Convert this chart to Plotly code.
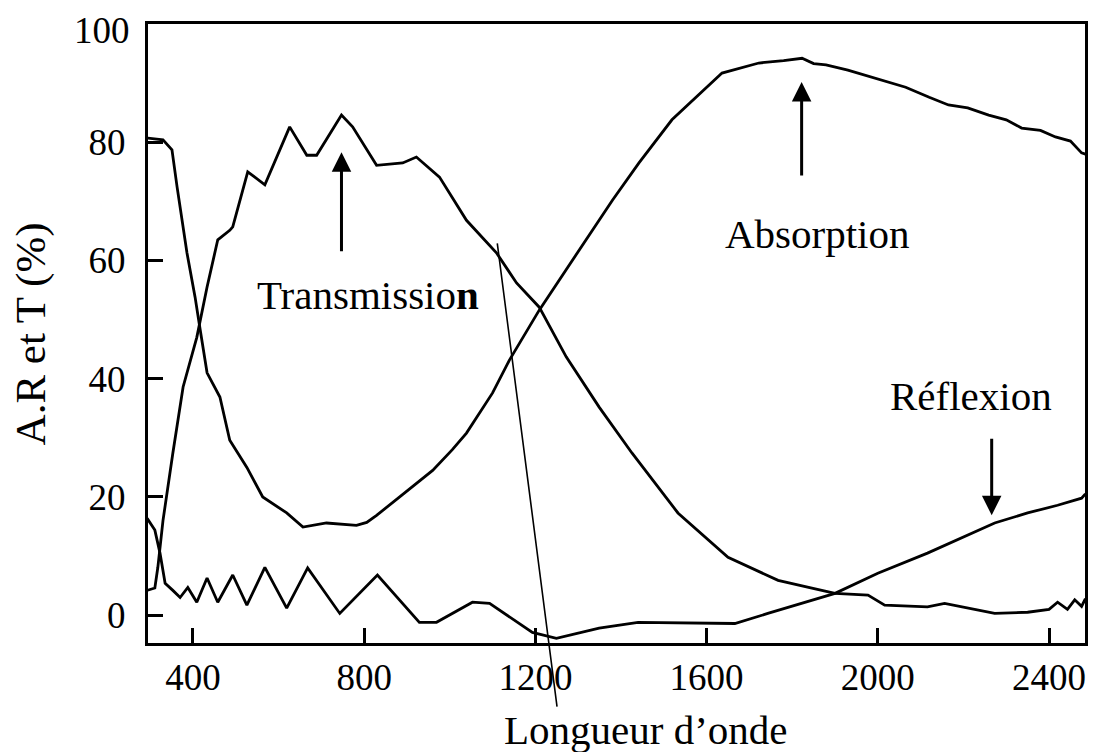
import plotly.graph_objects as go

# ---- data ----
wl_abs = [293, 330, 351, 363, 386, 405, 416, 433, 463, 486, 526, 563, 619, 657, 712, 782,
          806, 829, 883, 960, 1006, 1039, 1100, 1139, 1209, 1272, 1349, 1380, 1442, 1519,
          1636, 1722, 1780, 1823, 1850, 1879, 1930, 1986, 2065, 2120, 2165, 2210, 2259,
          2300, 2336, 2380, 2415, 2450, 2476, 2485]
absorption = [80.7, 80.4, 78.7, 72.4, 61.3, 53.8, 48.7, 41.0, 36.9, 29.6, 25.0, 20.0, 17.3,
              14.9, 15.6, 15.2, 15.7, 16.9, 20.0, 24.5, 28.0, 30.8, 37.6, 43.1, 51.6, 58.4,
              66.8, 70.2, 76.5, 83.8, 91.7, 93.4, 93.8, 94.2, 93.3, 93.1, 92.2, 91.0, 89.3,
              87.6, 86.3, 85.8, 84.6, 83.8, 82.4, 82.0, 80.9, 80.2, 78.2, 78.0]

wl_tr = [293, 311, 318, 330, 353, 377, 409, 433, 458, 486, 493, 528, 568, 626, 666, 689,
         747, 773, 829, 890, 922, 976, 1039, 1109, 1156, 1209, 1272, 1349, 1426, 1505,
         1533, 1650, 1767, 1846, 1900, 1977, 2016, 2116, 2156, 2273, 2350, 2400, 2420,
         2443, 2460, 2476, 2485]
transmission = [4.2, 4.6, 8.1, 16.0, 27.4, 38.6, 47.0, 55.5, 63.5, 65.1, 65.7, 75.0, 72.8,
                82.6, 77.8, 77.8, 84.6, 82.6, 76.1, 76.5, 77.5, 74.1, 66.8, 61.3, 56.2,
                52.1, 43.7, 35.2, 27.4, 20.0, 17.3, 9.8, 5.9, 4.6, 3.7, 3.4, 1.7, 1.4,
                2.0, 0.3, 0.5, 1.0, 2.2, 1.0, 2.6, 1.5, 2.8]

wl_ref = [293, 311, 323, 335, 353, 370, 388, 409, 433, 458, 493, 526, 568, 619, 668, 743,
          831, 929, 969, 1053, 1093, 1193, 1249, 1349, 1440, 1596, 1666, 1743, 1846, 1900,
          2000, 2116, 2273, 2350, 2420, 2476, 2485]
reflexion = [16.4, 14.4, 10.5, 5.4, 4.2, 3.0, 4.7, 2.2, 6.3, 2.2, 6.8, 1.7, 8.1, 1.2, 8.0,
             0.3, 6.8, -1.2, -1.2, 2.2, 2.0, -2.9, -3.9, -2.2, -1.2, -1.4, -1.4, 0.3, 2.5,
             3.7, 7.1, 10.5, 15.6, 17.3, 18.6, 19.8, 20.5]

x_ticks = [400, 800, 1200, 1600, 2000, 2400]
y_ticks = [0, 20, 40, 60, 80, 100]

FONT = "Liberation Serif, Times New Roman, serif"
line_style = dict(color="black", width=2.8)
tick_font = dict(family=FONT, size=37, color="black")

fig = go.Figure()
for xs, ys, name in [(wl_abs, absorption, "Absorption"),
                     (wl_tr, transmission, "Transmission"),
                     (wl_ref, reflexion, "Réflexion")]:
    fig.add_trace(go.Scatter(x=xs, y=ys, mode="lines", name=name,
                             line=line_style, showlegend=False, hoverinfo="skip"))

ann_font = dict(family=FONT, size=41, color="black")

# arrows
for (ax_x, tail_y, head_y) in [(747, 61.3, 78.3), (1822, 74.1, 90.2), (2266, 30.1, 16.9)]:
    fig.add_annotation(x=ax_x, y=head_y, ax=ax_x, ay=tail_y, xref="x", yref="y",
                       axref="x", ayref="y", text="", showarrow=True,
                       arrowhead=2, arrowwidth=3, arrowsize=1.3, arrowcolor="black")

# pointer line to "Longueur d'onde"
fig.add_annotation(x=1111, y=62.9, ax=1251, ay=-15.7, xref="x", yref="y",
                   axref="x", ayref="y", text="", showarrow=True,
                   arrowhead=0, arrowwidth=1.6, arrowcolor="black")

# labels
fig.add_annotation(x=810, y=54.1, xref="x", yref="y", text="Transmissio<b>n</b>",
                   showarrow=False, font=ann_font)
fig.add_annotation(x=1858, y=64.5, xref="x", yref="y", text="Absorption",
                   showarrow=False, font=ann_font)
fig.add_annotation(x=2217, y=37.1, xref="x", yref="y", text="Réflexion",
                   showarrow=False, font=ann_font)
fig.add_annotation(x=1459, y=-0.14, xref="x", yref="paper", text="Longueur d’onde",
                   showarrow=False, font=ann_font, xanchor="center", yanchor="middle")
fig.add_annotation(x=-0.125, y=0.50, xref="paper", yref="paper", text="A.R et T (%)",
                   textangle=-90, showarrow=False, xanchor="center", yanchor="middle",
                   font=dict(family=FONT, size=43, color="black"))

# top y tick label, kept inside the figure area
fig.add_annotation(x=0, y=1, xref="paper", yref="paper", text=str(y_ticks[-1]),
                   showarrow=False, xanchor="right", yanchor="top", xshift=-16, yshift=16,
                   font=tick_font)

axis_common = dict(showgrid=False, zeroline=False, showline=True, linecolor="black",
                   linewidth=3, mirror=True, ticks="inside", ticklen=15, tickwidth=2.5,
                   tickcolor="black", automargin=False, tickfont=tick_font)

fig.update_xaxes(range=[295, 2484], tickvals=x_ticks, ticktext=[str(v) for v in x_ticks],
                 ticklabelstandoff=0, **axis_common)
fig.update_yaxes(range=[-4.7, 100], tickvals=y_ticks,
                 ticktext=[str(v) for v in y_ticks[:-1]] + [""],
                 ticklabelstandoff=12, **axis_common)

# the page body adds an 8 px offset, so the figure is 8 px smaller than the window
fig.update_layout(width=1088, height=744, plot_bgcolor="white", paper_bgcolor="white",
                  margin=dict(l=140, r=11, t=16, b=109, autoexpand=False),
                  font=dict(family=FONT))

fig.write_html("out.html")
